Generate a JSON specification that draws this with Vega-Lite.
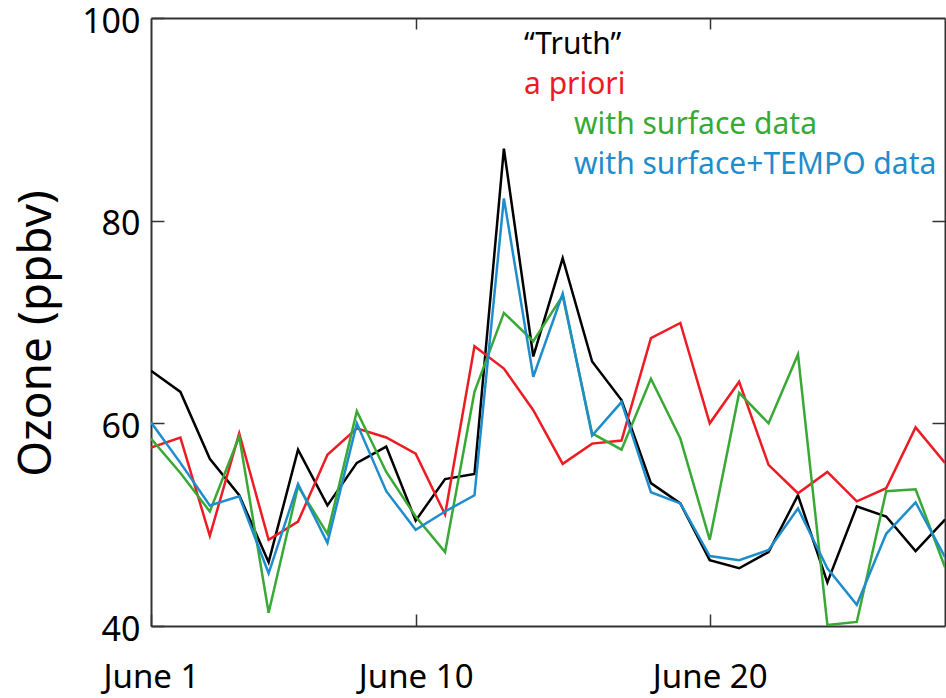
{
  "$schema": "https://vega.github.io/schema/vega-lite/v6.json",
  "width": 794,
  "height": 608,
  "autosize": {"type": "none"},
  "padding": {"left": 151, "top": 18, "right": 1, "bottom": 72},
  "background": "white",
  "config": {
    "view": {"stroke": null},
    "font": "Noto Sans",
    "axis": {"grid": false, "domainColor": "#333", "domainWidth": 2, "tickColor": "#333", "tickWidth": 1.5, "labelColor": "#000", "titleColor": "#000"}
  },
  "data": {
    "values": [
      {"day": 1, "series": "“Truth”", "ozone": 65.2},
      {"day": 2, "series": "“Truth”", "ozone": 63.1},
      {"day": 3, "series": "“Truth”", "ozone": 56.5},
      {"day": 4, "series": "“Truth”", "ozone": 52.9},
      {"day": 5, "series": "“Truth”", "ozone": 46.3},
      {"day": 6, "series": "“Truth”", "ozone": 57.4},
      {"day": 7, "series": "“Truth”", "ozone": 51.9},
      {"day": 8, "series": "“Truth”", "ozone": 56.1},
      {"day": 9, "series": "“Truth”", "ozone": 57.7},
      {"day": 10, "series": "“Truth”", "ozone": 50.4},
      {"day": 11, "series": "“Truth”", "ozone": 54.5},
      {"day": 12, "series": "“Truth”", "ozone": 55.0},
      {"day": 13, "series": "“Truth”", "ozone": 87.1},
      {"day": 14, "series": "“Truth”", "ozone": 66.6},
      {"day": 15, "series": "“Truth”", "ozone": 76.3},
      {"day": 16, "series": "“Truth”", "ozone": 66.1},
      {"day": 17, "series": "“Truth”", "ozone": 62.3},
      {"day": 18, "series": "“Truth”", "ozone": 54.1},
      {"day": 19, "series": "“Truth”", "ozone": 52.1},
      {"day": 20, "series": "“Truth”", "ozone": 46.5},
      {"day": 21, "series": "“Truth”", "ozone": 45.7},
      {"day": 22, "series": "“Truth”", "ozone": 47.3},
      {"day": 23, "series": "“Truth”", "ozone": 52.9},
      {"day": 24, "series": "“Truth”", "ozone": 44.3},
      {"day": 25, "series": "“Truth”", "ozone": 51.8},
      {"day": 26, "series": "“Truth”", "ozone": 50.8},
      {"day": 27, "series": "“Truth”", "ozone": 47.4},
      {"day": 28, "series": "“Truth”", "ozone": 50.5},
      {"day": 1, "series": "a priori", "ozone": 57.6},
      {"day": 2, "series": "a priori", "ozone": 58.6},
      {"day": 3, "series": "a priori", "ozone": 48.9},
      {"day": 4, "series": "a priori", "ozone": 59.0},
      {"day": 5, "series": "a priori", "ozone": 48.5},
      {"day": 6, "series": "a priori", "ozone": 50.3},
      {"day": 7, "series": "a priori", "ozone": 56.9},
      {"day": 8, "series": "a priori", "ozone": 59.5},
      {"day": 9, "series": "a priori", "ozone": 58.6},
      {"day": 10, "series": "a priori", "ozone": 57.0},
      {"day": 11, "series": "a priori", "ozone": 51.0},
      {"day": 12, "series": "a priori", "ozone": 67.6},
      {"day": 13, "series": "a priori", "ozone": 65.4},
      {"day": 14, "series": "a priori", "ozone": 61.3},
      {"day": 15, "series": "a priori", "ozone": 56.0},
      {"day": 16, "series": "a priori", "ozone": 58.0},
      {"day": 17, "series": "a priori", "ozone": 58.3},
      {"day": 18, "series": "a priori", "ozone": 68.4},
      {"day": 19, "series": "a priori", "ozone": 69.9},
      {"day": 20, "series": "a priori", "ozone": 60.0},
      {"day": 21, "series": "a priori", "ozone": 64.1},
      {"day": 22, "series": "a priori", "ozone": 55.9},
      {"day": 23, "series": "a priori", "ozone": 53.1},
      {"day": 24, "series": "a priori", "ozone": 55.2},
      {"day": 25, "series": "a priori", "ozone": 52.3},
      {"day": 26, "series": "a priori", "ozone": 53.6},
      {"day": 27, "series": "a priori", "ozone": 59.6},
      {"day": 28, "series": "a priori", "ozone": 56.1},
      {"day": 1, "series": "with surface data", "ozone": 58.5},
      {"day": 2, "series": "with surface data", "ozone": 55.1},
      {"day": 3, "series": "with surface data", "ozone": 51.3},
      {"day": 4, "series": "with surface data", "ozone": 58.7},
      {"day": 5, "series": "with surface data", "ozone": 41.3},
      {"day": 6, "series": "with surface data", "ozone": 53.8},
      {"day": 7, "series": "with surface data", "ozone": 49.1},
      {"day": 8, "series": "with surface data", "ozone": 61.2},
      {"day": 9, "series": "with surface data", "ozone": 55.2},
      {"day": 10, "series": "with surface data", "ozone": 50.8},
      {"day": 11, "series": "with surface data", "ozone": 47.3},
      {"day": 12, "series": "with surface data", "ozone": 63.1},
      {"day": 13, "series": "with surface data", "ozone": 70.9},
      {"day": 14, "series": "with surface data", "ozone": 68.1},
      {"day": 15, "series": "with surface data", "ozone": 72.6},
      {"day": 16, "series": "with surface data", "ozone": 59.0},
      {"day": 17, "series": "with surface data", "ozone": 57.4},
      {"day": 18, "series": "with surface data", "ozone": 64.4},
      {"day": 19, "series": "with surface data", "ozone": 58.5},
      {"day": 20, "series": "with surface data", "ozone": 48.5},
      {"day": 21, "series": "with surface data", "ozone": 63.0},
      {"day": 22, "series": "with surface data", "ozone": 60.0},
      {"day": 23, "series": "with surface data", "ozone": 66.8},
      {"day": 24, "series": "with surface data", "ozone": 40.1},
      {"day": 25, "series": "with surface data", "ozone": 40.4},
      {"day": 26, "series": "with surface data", "ozone": 53.3},
      {"day": 27, "series": "with surface data", "ozone": 53.5},
      {"day": 28, "series": "with surface data", "ozone": 45.8},
      {"day": 1, "series": "with surface+TEMPO data", "ozone": 60.1},
      {"day": 2, "series": "with surface+TEMPO data", "ozone": 56.1},
      {"day": 3, "series": "with surface+TEMPO data", "ozone": 51.9},
      {"day": 4, "series": "with surface+TEMPO data", "ozone": 52.8},
      {"day": 5, "series": "with surface+TEMPO data", "ozone": 45.2},
      {"day": 6, "series": "with surface+TEMPO data", "ozone": 54.0},
      {"day": 7, "series": "with surface+TEMPO data", "ozone": 48.2},
      {"day": 8, "series": "with surface+TEMPO data", "ozone": 60.0},
      {"day": 9, "series": "with surface+TEMPO data", "ozone": 53.3},
      {"day": 10, "series": "with surface+TEMPO data", "ozone": 49.5},
      {"day": 11, "series": "with surface+TEMPO data", "ozone": 51.3},
      {"day": 12, "series": "with surface+TEMPO data", "ozone": 52.9},
      {"day": 13, "series": "with surface+TEMPO data", "ozone": 82.2},
      {"day": 14, "series": "with surface+TEMPO data", "ozone": 64.6},
      {"day": 15, "series": "with surface+TEMPO data", "ozone": 72.8},
      {"day": 16, "series": "with surface+TEMPO data", "ozone": 58.8},
      {"day": 17, "series": "with surface+TEMPO data", "ozone": 62.1},
      {"day": 18, "series": "with surface+TEMPO data", "ozone": 53.2},
      {"day": 19, "series": "with surface+TEMPO data", "ozone": 52.1},
      {"day": 20, "series": "with surface+TEMPO data", "ozone": 46.9},
      {"day": 21, "series": "with surface+TEMPO data", "ozone": 46.5},
      {"day": 22, "series": "with surface+TEMPO data", "ozone": 47.5},
      {"day": 23, "series": "with surface+TEMPO data", "ozone": 51.6},
      {"day": 24, "series": "with surface+TEMPO data", "ozone": 45.7},
      {"day": 25, "series": "with surface+TEMPO data", "ozone": 42.1},
      {"day": 26, "series": "with surface+TEMPO data", "ozone": 49.1},
      {"day": 27, "series": "with surface+TEMPO data", "ozone": 52.2},
      {"day": 28, "series": "with surface+TEMPO data", "ozone": 46.8}
    ]
  },
  "resolve": {"axis": {"x": "independent", "y": "independent"}},
  "layer": [
    {
      "mark": {"type": "line", "strokeWidth": 2.5, "clip": true},
      "encoding": {
        "x": {
          "field": "day", "type": "quantitative",
          "scale": {"domain": [1, 28], "nice": false, "zero": false},
          "axis": {"orient": "bottom", "title": null, "values": [1, 10, 20], "labelExpr": "'June ' + datum.value", "labelFontSize": 33, "labelFont": "Noto Sans", "tickSize": -12, "labelBaseline": "alphabetic", "labelPadding": 73, "labelFlush": false, "labelOverlap": false}
        },
        "y": {
          "field": "ozone", "type": "quantitative",
          "scale": {"domain": [40, 100], "nice": false, "zero": false},
          "axis": {"orient": "left", "title": "Ozone (ppbv)", "values": [40, 60, 80, 100], "labelFontSize": 34, "labelFont": "Noto Sans", "tickSize": -13, "labelPadding": 24, "labelBaseline": "alphabetic", "labelOffset": 14, "labelFlush": false, "labelOverlap": false, "titleFontSize": 46, "titleFont": "Noto Sans", "titleFontWeight": "normal", "titleX": -101, "titleY": 315, "titleBaseline": "alphabetic", "titleAlign": "center", "titleAngle": 270}
        },
        "color": {
          "field": "series", "type": "nominal",
          "scale": {"domain": ["“Truth”", "a priori", "with surface data", "with surface+TEMPO data"], "range": ["#000000", "#ed1c24", "#39a935", "#1f8dcb"]},
          "legend": {
            "orient": "none", "legendX": 343, "legendY": 21, "title": null, "padding": 0,
            "symbolSize": 0, "symbolOpacity": 0, "symbolStrokeWidth": 0,
            "labelFontSize": 30, "labelFont": "Noto Sans", "labelLimit": 0, "labelOffset": 0, "labelBaseline": "alphabetic",
            "rowPadding": 10,
            "encode": {"labels": {"update": {"fill": {"scale": "color", "field": "value"}, "dx": {"signal": "datum.index > 1 ? 50 : 0"}}}}
          }
        }
      }
    },
    {
      "mark": {"type": "line", "opacity": 0},
      "encoding": {
        "x": {"field": "day", "type": "quantitative", "axis": {"orient": "top", "title": null, "values": [10, 20], "labels": false, "tickSize": -11}},
        "y": {"field": "ozone", "type": "quantitative", "axis": {"orient": "right", "title": null, "values": [60, 80], "labels": false, "tickSize": -13}},
        "detail": {"field": "series", "type": "nominal"}
      }
    }
  ]
}
